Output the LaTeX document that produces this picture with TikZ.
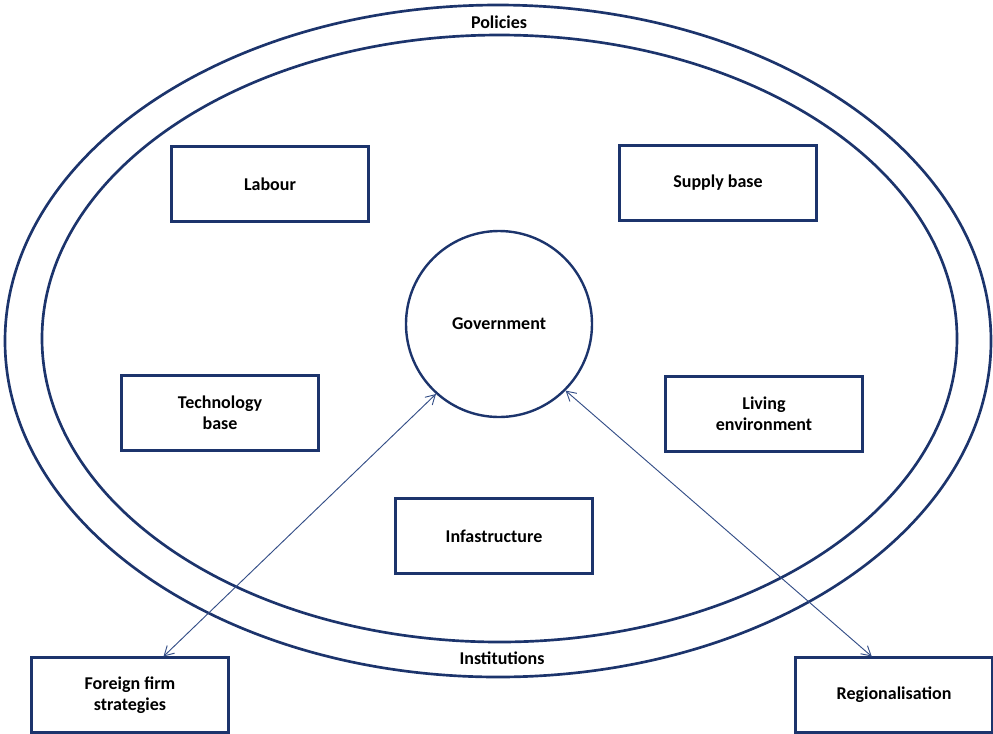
\documentclass[tikz,border=0pt]{standalone}
\usepackage{fontspec}
\setmainfont{Carlito}
\usetikzlibrary{arrows.meta}
\definecolor{azulesc}{RGB}{28,52,108}
\definecolor{azulseta}{RGB}{52,78,135}

\begin{document}
\begin{tikzpicture}[x=0.75pt, y=-0.75pt,
	anel/.style={draw=azulesc, line width=2pt},
	caixa/.style={rectangle, draw=azulesc, line width=1.8pt, minimum width=147.75pt, minimum height=56pt, align=center, font=\bfseries\fontsize{13.5}{16}\selectfont},
	rotulo/.style={font=\bfseries\fontsize{13.5}{16}\selectfont},
	seta/.style={draw=azulseta, line width=0.7pt, {Straight Barb[length=7pt,width=8pt]}-{Straight Barb[length=7pt,width=8pt]}}]

\useasboundingbox (0,0) rectangle (993,733);

% Aneis
	\draw[anel] (498,341) ellipse [x radius=493, y radius=336];
	\draw[anel] (499.5,338.5) ellipse [x radius=457.5, y radius=303.5];
	\node[rotulo] (pol) at (499,22) {Policies};
	\node[rotulo] (inst) at (502,658) {Institutions};

% Governo e fatores
	\node[circle, draw=azulesc, line width=1.8pt, minimum size=139.5pt, inner sep=0pt, rotulo] (gov) at (499,324) {Government};

	\node[caixa] (lab) at (270,184) {Labour};
	\node[caixa] (sup) at (718,183) {Supply base};
	\node[caixa] (tec) at (220,413) {Technology\\base};
	\node[caixa] (viv) at (764,414) {Living\\environment};
	\node[caixa] (inf) at (494,536) {Infastructure};

% Fora dos aneis
	\node[caixa] (est) at (130,695) {Foreign firm\\strategies};
	\node[caixa] (reg) at (894,695) {Regionalisation};

	\draw[seta] (gov.228) -- (est.49);
	\draw[seta] (gov.315) -- (reg.120);
\end{tikzpicture}
\end{document}
